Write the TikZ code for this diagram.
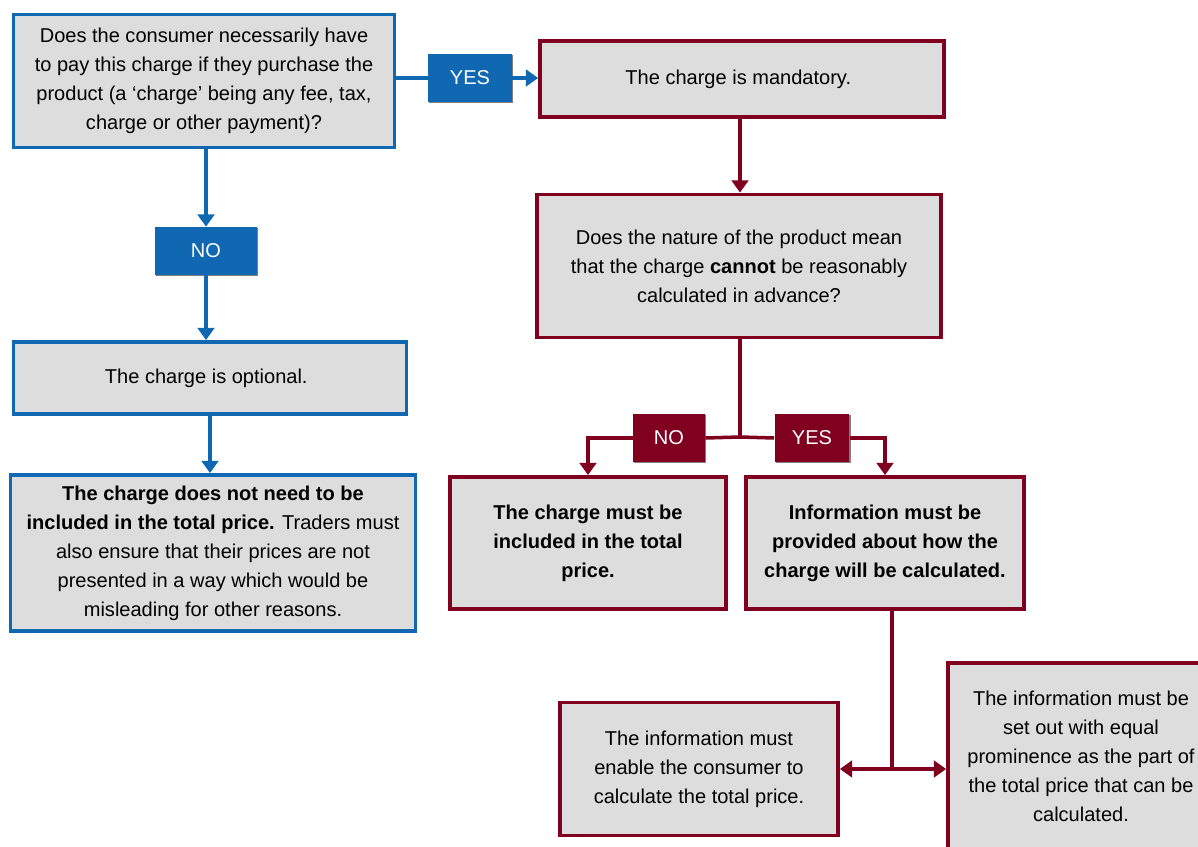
\documentclass[tikz,border=0pt]{standalone}
\usepackage{fontspec}
\setmainfont{Liberation Sans}
\definecolor{flowblue}{RGB}{17, 104, 178}
\definecolor{flowred}{RGB}{128, 0, 32}
\definecolor{boxgrey}{RGB}{221, 221, 221}
\usetikzlibrary{arrows.meta, positioning, shadows}

\begin{document}
\begin{tikzpicture}[
  x=0.02cm, y=-0.02cm,
  box/.style={draw, line width=2.2pt, fill=boxgrey, align=center, inner sep=0pt, font=\fontsize{11.4}{16.5}\selectfont},
  bbox/.style={box, draw=flowblue},
  rbox/.style={box, draw=flowred},
  tag/.style={text=white, minimum height=0.96cm, align=center, inner sep=0pt, font=\fontsize{11.4}{13}\selectfont, drop shadow={shadow xshift=0.8pt, shadow yshift=-0.8pt, opacity=0.5, fill=black}},
  btag/.style={tag, fill=flowblue},
  rtag/.style={tag, fill=flowred},
  bline/.style={draw=flowblue, line width=2pt},
  rline/.style={draw=flowred, line width=2pt},
  tip/.style={-{Triangle[width=9.5pt,length=7pt]}},
  tips/.style={{Triangle[width=9.5pt,length=7pt]}-{Triangle[width=9.5pt,length=7pt]}}
]
  \useasboundingbox (0,0) rectangle (1198,847);
  \clip (0,0) rectangle (1198,847);

  \node[bbox, minimum width=7.62cm, minimum height=2.66cm] (q1) at (204,81) {
    Does the consumer necessarily have\\
    to pay this charge if they purchase the\\
    product (a ‘charge’ being any fee, tax,\\
    charge or other payment)?
  };
  \node[btag, minimum width=1.68cm] (yes1) at (470,78) {YES};
  \node[rbox, minimum width=8.08cm, minimum height=1.52cm] (mand) at (742,79) {
    The charge is mandatory.
  };
  \node[btag, minimum width=2.04cm] (no1) at (206,251) {NO};
  \node[bbox, minimum width=7.86cm, minimum height=1.44cm] (opt) at (210,378) {
    The charge is optional.
  };
  \node[bbox, minimum width=8.1cm, minimum height=3.12cm] (free) at (213,553) {
    \textbf{The charge does not need to be}\\
    \textbf{included in the total price.} Traders must\\
    also ensure that their prices are not\\
    presented in a way which would be\\
    misleading for other reasons.
  };
  \node[rbox, minimum width=8.08cm, minimum height=2.86cm] (q2) at (739,266) {
    Does the nature of the product mean\\
    that the charge \textbf{cannot} be reasonably\\
    calculated in advance?
  };
  \node[rtag, minimum width=1.44cm] (no2) at (669,438) {NO};
  \node[rtag, minimum width=1.5cm] (yes2) at (812,438) {YES};
  \node[rbox, minimum width=5.52cm, minimum height=2.64cm] (incl) at (588,543) {
    \textbf{The charge must be}\\
    \textbf{included in the total}\\
    \textbf{price.}
  };
  \node[rbox, minimum width=5.56cm, minimum height=2.64cm] (info) at (885,543) {
    \textbf{Information must be}\\
    \textbf{provided about how the}\\
    \textbf{charge will be calculated.}
  };
  \node[rbox, minimum width=5.56cm, minimum height=2.66cm] (calc) at (699,769) {
    The information must\\
    enable the consumer to\\
    calculate the total price.
  };
  \node[rbox, minimum width=5.32cm, minimum height=3.72cm] (equal) at (1081,756) {
    The information must be\\
    set out with equal\\
    prominence as the part of\\
    the total price that can be\\
    calculated.
  };
  \coordinate (split) at (740,437);
  \coordinate (fork) at (892,769);

  \draw[bline] (q1.east |- yes1) -- (yes1.west);
  \draw[bline, tip] (yes1.east) -- (mand.west |- yes1);
  \draw[bline, tip] (no1.north |- q1.south) -- (no1.north);
  \draw[bline, tip] (no1.south) -- (no1.south |- opt.north);
  \draw[bline, tip] (opt.south) -- (opt.south |- free.north);

  \draw[rline, tip] (split |- mand.south) -- (split |- q2.north);
  \draw[rline] (split |- q2.south) -- (split);
  \draw[rline] (split) -- (no2.east);
  \draw[rline, tip] (no2.west) -| (incl.north);
  \draw[rline] (split) -- (yes2.west);
  \draw[rline, tip] (yes2.east) -| (info.north);
  \draw[rline] (fork |- info.south) -- (fork);
  \draw[rline, tips] (calc.east) -- (equal.west |- calc.east);
\end{tikzpicture}
\end{document}
